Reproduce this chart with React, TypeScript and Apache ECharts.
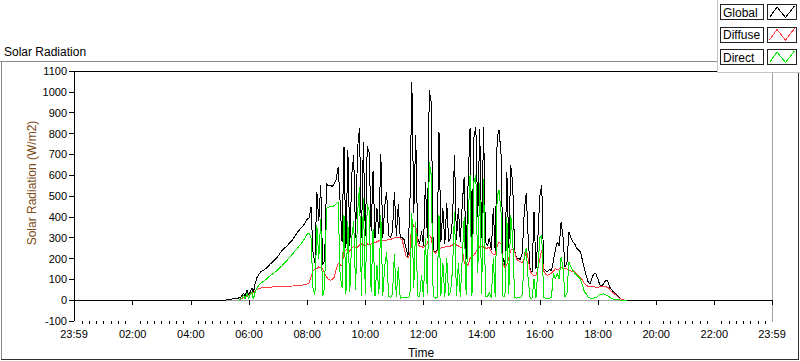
import React, { useEffect, useRef } from "react";
import * as echarts from "echarts";

const FONT = '"Liberation Sans", Arial, sans-serif';

// Time axis (minutes after midnight); 23:59 of the previous day = -1
const majorTicks = [-1, 120, 240, 360, 480, 600, 720, 840, 960, 1080, 1200, 1320, 1439];
const yTitle = "Solar Radiation (W/m2)";
const seriesNames = ["Global", "Diffuse", "Direct"];
const seriesColors = ["#000000", "#ff3c3c", "#00e600"];

// Night / early morning samples (irregular spacing)
const earlyMinutes = [-1, 300, 310, 320, 330, 338, 343, 349, 352, 356, 359, 363, 366, 369, 373, 377, 384, 394, 405, 418, 428, 439, 450, 462, 472, 480, 484];
const earlyGlobal = [0, 0, 0, 4, 7, 10, 15, 32, 18, 48, 24, 40, 58, 35, 82, 112, 136, 150, 176, 205, 238, 262, 290, 332, 358, 388, 395];
const earlyDiffuse = [null, null, null, null, null, 0, 6, 12, 15, 20, 22, 28, 32, 36, 45, 53, 58, 61, 63, 64, 65, 67, 68, 70, 73, 77, 82];
const earlyDirect = [null, null, null, null, null, 0, 2, 24, 4, 36, 6, 30, 40, 5, 42, 62, 80, 98, 120, 142, 165, 192, 222, 255, 285, 316, 323];

// Daytime samples every 4 minutes from 08:08 (488) to 19:00 (1140)
const dayStart = 488;
const dayStep = 4;
const dayGlobal = [
  448, 230, 180, 520, 380, 552, 170, 190, 560, 548, 552, 545, 560, 580, 640, 470, 280, 737, 250, 720,
  260, 600, 697, 300, 730, 826, 300, 760, 310, 740, 706, 330, 620, 300, 442, 320, 700, 300, 450, 520,
  310, 300, 330, 520, 310, 460, 300, 300, 290, 250, 210, 460, 1049, 420, 793, 300, 270, 330, 260, 568,
  300, 1008, 950, 240, 230, 240, 808, 280, 440, 270, 465, 280, 300, 393, 697, 290, 440, 280, 460, 592,
  200, 560, 826, 240, 780, 832, 400, 820, 300, 832, 280, 260, 300, 240, 440, 230, 780, 817, 700, 200,
  170, 616, 250, 648, 560, 240, 200, 200, 195, 230, 430, 512, 300, 145, 135, 424, 150, 300, 500, 552,
  152, 140, 135, 150, 140, 190, 240, 280, 260, 376, 300, 160, 180, 328, 300, 280, 270, 250, 240, 232,
  190, 150, 115, 85, 80, 110, 128, 125, 100, 72, 68, 80, 96, 92, 64, 50, 40, 30, 20, 12,
  5, 1, 0, 0,
];
const dayDiffuse = [
  112, 140, 150, 150, 160, 155, 150, 130, 112, 100, 96, 100, 110, 150, 175, 170, 165, 230, 240, 245,
  235, 250, 260, 250, 255, 265, 270, 265, 260, 270, 265, 270, 280, 275, 280, 285, 285, 285, 285, 288,
  290, 292, 295, 300, 300, 300, 298, 290, 250, 210, 205, 220, 390, 350, 360, 280, 255, 260, 250, 265,
  270, 312, 300, 235, 225, 235, 250, 250, 255, 255, 260, 255, 260, 265, 270, 265, 260, 255, 250, 180,
  165, 170, 200, 215, 216, 230, 250, 256, 260, 255, 250, 250, 255, 230, 220, 216, 260, 280, 270, 180,
  155, 170, 200, 240, 245, 235, 195, 190, 185, 180, 200, 240, 200, 140, 125, 115, 120, 150, 200, 240,
  140, 125, 120, 125, 130, 140, 150, 148, 150, 155, 155, 150, 150, 145, 140, 140, 135, 125, 115, 110,
  96, 80, 72, 64, 64, 64, 64, 62, 62, 64, 64, 64, 64, 62, 52, 42, 34, 26, 18, 10,
  4, 1, 0, 0,
];
const dayDirect = [
  300, 60, 25, 360, 200, 390, 20, 60, 442, 445, 450, 448, 455, 462, 470, 120, 60, 408, 30, 380,
  40, 300, 380, 50, 420, 544, 20, 490, 30, 460, 430, 40, 340, 20, 170, 30, 410, 20, 160, 230,
  20, 12, 30, 220, 15, 160, 10, 12, 15, 12, 10, 20, 420, 60, 376, 20, 15, 120, 15, 300,
  30, 664, 600, 20, 10, 12, 408, 20, 180, 15, 200, 20, 40, 150, 424, 20, 180, 15, 200, 400,
  25, 380, 600, 20, 568, 600, 130, 560, 30, 580, 20, 15, 40, 12, 200, 15, 500, 528, 420, 20,
  15, 400, 30, 408, 300, 12, 10, 12, 10, 30, 220, 250, 100, 10, 10, 100, 12, 150, 300, 312,
  12, 10, 10, 10, 12, 130, 100, 130, 100, 208, 150, 16, 30, 184, 160, 144, 130, 120, 112, 100,
  70, 40, 30, 12, 10, 10, 10, 12, 20, 30, 28, 30, 25, 20, 15, 8, 5, 3, 2, 1,
  0, 0, 0, 0,
];

const lateMinutes = [1439];
const lateGlobal = [0];
const lateDiffuse = [null];
const lateDirect = [null];

const dayMinutes = dayGlobal.map((_, i) => dayStart + dayStep * i);
const minutes = [...earlyMinutes, ...dayMinutes, ...lateMinutes];
const globalValues = [...earlyGlobal, ...dayGlobal, ...lateGlobal];
const diffuseValues = [...earlyDiffuse, ...dayDiffuse, ...lateDiffuse];
const directValues = [...earlyDirect, ...dayDirect, ...lateDirect];

const minorTicks: number[] = [];
for (let m = 15; m < 1439; m += 15) if (m % 120 !== 0) minorTicks.push(m);

const pad = (n: number) => (n < 10 ? "0" + n : String(n));
const fmtTime = (v: number) => {
  if (v < 0 || v > 1430) return "23:59";
  return pad(Math.floor(v / 60)) + ":" + pad(v % 60);
};

function buildGraphic() {
  const els: any[] = [];
  // outer frame
  els.push({ type: "line", shape: { x1: 0, y1: 61.5, x2: 718, y2: 61.5 }, style: { stroke: "#8a8a8a", lineWidth: 1 } });
  els.push({ type: "line", shape: { x1: 1.5, y1: 61.5, x2: 1.5, y2: 359.5 }, style: { stroke: "#8a8a8a", lineWidth: 1 } });
  els.push({ type: "line", shape: { x1: 1, y1: 359.5, x2: 799, y2: 359.5 }, style: { stroke: "#303030", lineWidth: 1 } });
  els.push({ type: "line", shape: { x1: 798.5, y1: 72, x2: 798.5, y2: 360 }, style: { stroke: "#303030", lineWidth: 1 } });
  // plot frame: top black, right gray
  els.push({ type: "line", shape: { x1: 74, y1: 71.5, x2: 772.5, y2: 71.5 }, style: { stroke: "#000", lineWidth: 1 } });
  els.push({ type: "line", shape: { x1: 772.5, y1: 71.5, x2: 772.5, y2: 321.5 }, style: { stroke: "#a0a0a0", lineWidth: 1 } });
  // titles
  els.push({ type: "text", x: 4, y: 51.5, style: { text: "Solar Radiation", fill: "#000", fontSize: 12, fontFamily: FONT, align: "left", verticalAlign: "middle" } });
  els.push({ type: "text", x: 31.5, y: 183, rotation: Math.PI / 2, style: { text: yTitle, fill: "#7b4a14", fontSize: 12, fontFamily: FONT, align: "center", verticalAlign: "middle" } });
  els.push({ type: "text", x: 421, y: 353, style: { text: "Time", fill: "#000", fontSize: 12, fontFamily: FONT, align: "center", verticalAlign: "middle" } });
  // legend panel
  els.push({ type: "rect", shape: { x: 717.5, y: -1, width: 90, height: 73 }, style: { fill: "#ffffff", stroke: "#c4c4c4", lineWidth: 1 } });
  const tops = [4.5, 27, 49.5];
  seriesNames.forEach((name, i) => {
    const t = tops[i];
    els.push({ type: "rect", shape: { x: 720.5, y: t, width: 43, height: 15 }, style: { fill: "#ffffff", stroke: "#202020", lineWidth: 1 } });
    els.push({ type: "text", x: 723, y: t + 8, style: { text: name, fill: "#000", fontSize: 12, fontFamily: FONT, align: "left", verticalAlign: "middle" } });
    els.push({ type: "rect", shape: { x: 767.5, y: t, width: 29, height: 15 }, style: { fill: "#ffffff", stroke: "#202020", lineWidth: 1 } });
    els.push({
      type: "polyline",
      shape: { points: [[769.5, t + 13], [777, t + 2.5], [785.5, t + 13], [794.5, t + 1.5]] },
      style: { stroke: seriesColors[i], fill: null, lineWidth: 1 },
    });
  });
  return els;
}

export default function App() {
  const ref = useRef<HTMLDivElement>(null);
  useEffect(() => {
    if (!ref.current) return;
    const chart = echarts.init(ref.current, undefined, { renderer: "svg" });
    const values = [globalValues, diffuseValues, directValues];
    chart.setOption({
      animation: false,
      backgroundColor: "#ffffff",
      grid: { left: 74, top: 71, width: 698, height: 250, show: false },
      xAxis: [
        {
          type: "value",
          min: -1,
          max: 1439,
          position: "bottom",
          axisLine: { show: true, lineStyle: { color: "#a0a0a0", width: 1 } },
          axisTick: { show: true, customValues: majorTicks, length: 5, lineStyle: { color: "#000" } },
          axisLabel: { show: true, customValues: majorTicks, formatter: fmtTime, fontSize: 11, fontFamily: FONT, color: "#000", margin: 7 },
          splitLine: { show: false },
        },
        {
          type: "value",
          min: -1,
          max: 1439,
          position: "bottom",
          offset: 0,
          axisLine: { show: false },
          axisTick: { show: true, customValues: minorTicks, length: 3, lineStyle: { color: "#000" } },
          axisLabel: { show: false },
          splitLine: { show: false },
        },
      ],
      yAxis: {
        type: "value",
        min: -100,
        max: 1100,
        interval: 100,
        axisLine: { show: true, lineStyle: { color: "#000", width: 1 } },
        axisTick: { show: true, length: 5, lineStyle: { color: "#000" } },
        axisLabel: { fontSize: 11, fontFamily: FONT, color: "#000", margin: 7, formatter: (v: number) => String(v) },
        splitLine: { show: false },
      },
      series: seriesNames.map((name, i) => ({
        name,
        type: "line",
        xAxisIndex: 0,
        data: minutes.map((t, k) => [t, values[i][k] === null ? "-" : values[i][k]]),
        showSymbol: false,
        symbol: "none",
        connectNulls: false,
        silent: true,
        lineStyle: { width: 1, color: seriesColors[i] },
        itemStyle: { color: seriesColors[i] },
      })),
      graphic: buildGraphic(),
    });
    // Non-antialiased strokes, like the original instrument display
    ref.current.querySelectorAll("path, polyline, line").forEach((el) => el.setAttribute("shape-rendering", "crispEdges"));
    return () => chart.dispose();
  }, []);
  return <div ref={ref} style={{ position: "absolute", left: 0, top: 0, width: 800, height: 361 }} />;
}
